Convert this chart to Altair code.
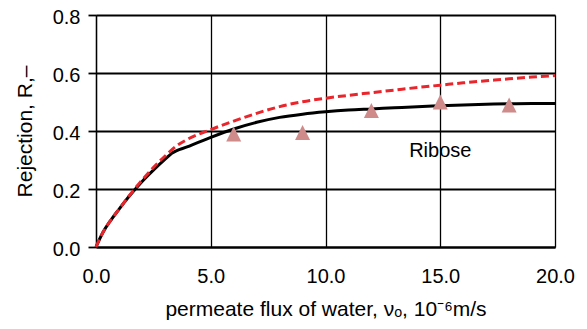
import altair as alt
import pandas as pd

# Model curve (solid black)
black_x = [0, 0.3, 0.65, 1.0, 1.5, 2.0, 2.5, 3.0, 3.3, 4.0, 5.0, 6.0, 7.0, 8.0, 9.0, 10.0, 11.0, 12.0, 13.0, 14.0, 15.0, 16.0, 17.0, 18.0, 19.0, 20.0]
black_y = [0, 0.05, 0.093, 0.13, 0.18, 0.225, 0.265, 0.302, 0.323, 0.346, 0.378, 0.407, 0.43, 0.447, 0.458, 0.466, 0.472, 0.476, 0.48, 0.484, 0.487, 0.49, 0.492, 0.494, 0.495, 0.495]

# Model curve (dashed red)
red_x = [0, 0.3, 0.65, 1.0, 1.5, 2.0, 2.5, 3.0, 3.5, 4.0, 5.0, 6.0, 7.0, 8.0, 9.0, 10.0, 11.0, 12.0, 13.0, 14.0, 15.0, 16.0, 17.0, 18.0, 19.0, 20.0]
red_y = [0, 0.05, 0.093, 0.13, 0.182, 0.23, 0.274, 0.313, 0.348, 0.372, 0.405, 0.434, 0.461, 0.484, 0.501, 0.513, 0.523, 0.532, 0.541, 0.55, 0.558, 0.566, 0.573, 0.58, 0.586, 0.591]

# Measured points (triangles)
exp_x = [6.0, 9.0, 12.0, 15.0, 18.0]
exp_y = [0.39, 0.395, 0.471, 0.50, 0.49]

label_text = ["Ribose"]
label_x = [15.0]
label_y = [0.33]

df_black = pd.DataFrame({"x": black_x, "y": black_y})
df_red = pd.DataFrame({"x": red_x, "y": red_y})
df_exp = pd.DataFrame({"x": exp_x, "y": exp_y})
df_lab = pd.DataFrame({"x": label_x, "y": label_y, "t": label_text})

FONT = "Liberation Sans"

xscale = alt.Scale(domain=[0, 20], nice=False)
yscale = alt.Scale(domain=[0, 0.8], nice=False)

xaxis = alt.Axis(
    values=[0, 5, 10, 15, 20], format=".1f",
    title="permeate flux of water, νₒ, 10⁻⁶m/s",
    grid=True, gridColor="black", gridWidth=1.3,
    ticks=False, tickSize=0, labelPadding=19, labelFlush=False,
    labelFontSize=20, labelFont=FONT, labelColor="black",
    titleFontSize=21, titleFont=FONT, titleFontWeight="normal", titleColor="black",
    titlePadding=12, domainColor="black", domainWidth=2,
)
yaxis = alt.Axis(
    values=[0, 0.2, 0.4, 0.6, 0.8], format=".1f",
    title="Rejection, R,–",
    grid=True, gridColor="black", gridWidth=1.8,
    ticks=True, tickSize=8, tickColor="black", tickWidth=1.8, labelPadding=8, labelFlush=False,
    labelOffset=2,
    labelFontSize=20, labelFont=FONT, labelColor="black",
    titleFontSize=21, titleFont=FONT, titleFontWeight="normal", titleColor="black",
    titlePadding=17, domainColor="black", domainWidth=1.3,
)

base_black = alt.Chart(df_black).mark_line(color="black", strokeWidth=3, interpolate="monotone").encode(
    x=alt.X("x:Q", scale=xscale, axis=xaxis),
    y=alt.Y("y:Q", scale=yscale, axis=yaxis),
)
red = alt.Chart(df_red).mark_line(color="#e8262c", strokeWidth=3, strokeDash=[8, 4], interpolate="monotone").encode(
    x=alt.X("x:Q", scale=xscale),
    y=alt.Y("y:Q", scale=yscale),
)
pts = alt.Chart(df_exp).mark_point(shape="M0,-1L1,1L-1,1Z", filled=True, size=225, color="#cf8a8a", opacity=1).encode(
    x=alt.X("x:Q", scale=xscale),
    y=alt.Y("y:Q", scale=yscale),
)
lab = alt.Chart(df_lab).mark_text(fontSize=20, font=FONT, color="black").encode(
    x=alt.X("x:Q", scale=xscale),
    y=alt.Y("y:Q", scale=yscale),
    text="t:N",
)

chart = alt.layer(base_black, red, pts, lab).properties(
    width=459, height=232,
    autosize=alt.AutoSizeParams(type="none"),
    padding={"left": 88, "top": 7, "right": 24, "bottom": 74},
).configure_view(stroke="#777", strokeWidth=1).configure(background="white")

chart.save("out.html", embed_options={"renderer": "svg", "actions": False})
